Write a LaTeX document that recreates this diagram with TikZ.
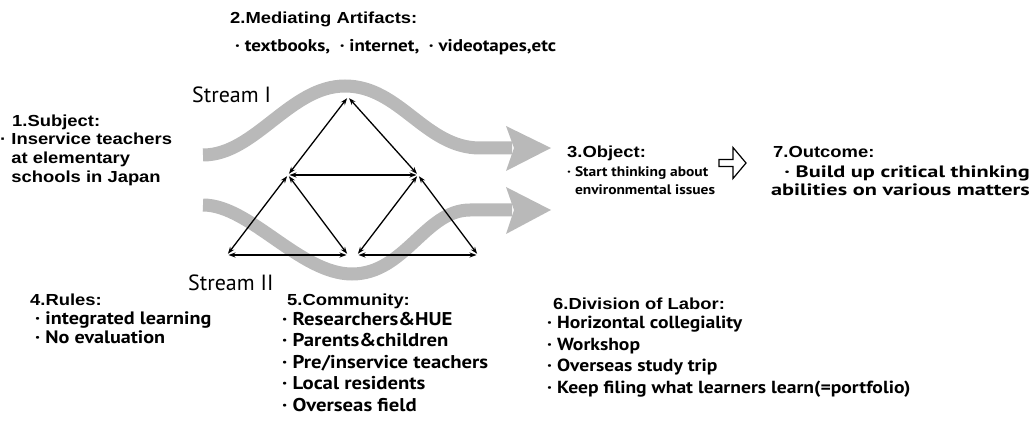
\documentclass[tikz,border=0pt]{standalone}
\usepackage{fontspec}
\setmainfont{PT Sans}
\newfontfamily\headfont{Liberation Sans}[FakeStretch=1.15]
\newfontfamily\bodyfont{PT Sans}[FakeStretch=1.12]
\newfontfamily\outfont{PT Sans}[FakeStretch=1.35]
\usetikzlibrary{arrows.meta,shapes.arrows}

\newcommand{\bu}{\textperiodcentered\ }

\tikzset{
  heading/.style={font=\headfont\bfseries\fontsize{16}{19}\selectfont, anchor=base west, inner sep=0pt},
  itemtext/.style={font=\bodyfont\bfseries\fontsize{17}{22}\selectfont, anchor=north west, align=left, inner sep=0pt},
  streamlabel/.style={font=\fontsize{22}{24}\selectfont, anchor=base west, inner sep=0pt},
  stream/.style={draw=gray!55, line width=13pt},
  streamhead/.style={fill=gray!55},
  link/.style={<->, >={Stealth[length=7pt,width=5pt]}, line width=1.3pt,
               shorten <=1.5pt, shorten >=1.5pt},
}

\begin{document}
\begin{tikzpicture}[x=1pt,y=-1pt]
  \useasboundingbox (0,0) rectangle (1034,435);

  % the two streams
  \draw[stream] (203,155) .. controls (255,155) and (290,86) .. (345,86)
                .. controls (400,86) and (425,148) .. (480,148) -- (512,148);
  \fill[streamhead] (506,126) -- (551,148) -- (506,171) -- (514,148) -- cycle;
  \draw[stream] (203,205) .. controls (250,205) and (300,274) .. (352,274)
                .. controls (405,274) and (425,210) .. (470,210) -- (512,210);
  \fill[streamhead] (506,187) -- (551,210) -- (506,234) -- (514,210) -- cycle;

  \node[streamlabel] (s1) at (192,103) {Stream I};
  \node[streamlabel] (s2) at (188,291) {Stream II};

  % activity triangles
  \coordinate (top) at (348,97);
  \coordinate (ml)  at (288,175);
  \coordinate (mr)  at (418,175);
  \coordinate (bl)  at (227,255);
  \coordinate (bml) at (348,255);
  \coordinate (bmr) at (357,255);
  \coordinate (br)  at (478,255);

  \draw[link] (top) -- (ml);
  \draw[link] (top) -- (mr);
  \draw[link] (ml) -- (mr);
  \draw[link] (ml) -- (bl);
  \draw[link] (ml) -- (bml);
  \draw[link] (bl) -- (bml);
  \draw[link] (mr) -- (bmr);
  \draw[link] (mr) -- (br);
  \draw[link] (bmr) -- (br);

  % labels
  \node[heading] (art) at (230,24) {2.Mediating Artifacts:};
  \node[itemtext, anchor=base west] (artitems) at (235,52)
    {\bu textbooks,\ \ \bu internet,\ \ \bu videotapes,etc};

  \node[heading] (subj) at (12,127) {1.Subject:};
  \node[heading, anchor=north west, align=left, font=\headfont\bfseries\fontsize{16}{19}\selectfont]
    (subjitems) at (0,133)
    {\bu Inservice teachers\\\phantom{\bu}at elementary\\\phantom{\bu}schools in Japan};

  \node[heading] (obj) at (567,158) {3.Object:};
  \node[itemtext, font=\bodyfont\bfseries\fontsize{13.8}{18}\selectfont] (objitems) at (567,166)
    {\bu Start thinking about\\\phantom{\bu}environmental issues};

  \node[single arrow, draw, line width=1.2pt, minimum height=27pt, minimum width=31pt,
        single arrow head extend=2pt, single arrow tip angle=100, inner sep=0pt]
        (toout) at (731,163) {};

  \node[heading] (out) at (773,158) {7.Outcome:};
  \node[itemtext, anchor=north east, align=right, font=\outfont\bfseries\fontsize{16.5}{18}\selectfont]
    (outitems) at (1030,166) {\bu Build up critical thinking\\abilities on various matters};

  \node[heading] (rules) at (30,306) {4.Rules:};
  \node[itemtext, font=\bodyfont\bfseries\fontsize{18}{19}\selectfont] (rulesitems) at (35,312)
    {\bu integrated learning\\\bu No evaluation};

  \node[heading] (comm) at (287,306) {5.Community:};
  \node[itemtext, font=\bodyfont\bfseries\fontsize{18.5}{21.5}\selectfont] (commitems) at (282,312)
    {\bu Researchers\&HUE\\\bu Parents\&children\\\bu Pre/inservice teachers\\\bu Local residents\\\bu Overseas field};

  \node[heading] (div) at (553,310) {6.Division of Labor:};
  \node[itemtext, font=\bodyfont\bfseries\fontsize{17.5}{21.5}\selectfont] (divitems) at (547,316)
    {\bu Horizontal collegiality\\\bu Workshop\\\bu Overseas study trip\\\bu Keep filing what learners learn(=portfolio)};
\end{tikzpicture}
\end{document}
